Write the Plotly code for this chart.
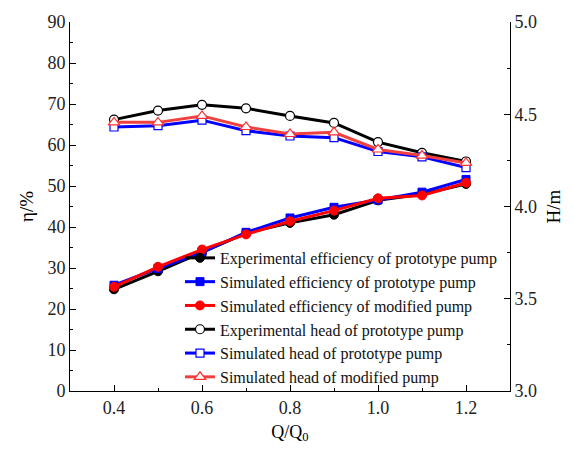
import plotly.graph_objects as go

q = [0.4, 0.5, 0.6, 0.7, 0.8, 0.9, 1.0, 1.1, 1.2]

eff_exp_proto = [24.8, 29.2, 33.8, 38.5, 41.0, 43.0, 46.5, 48.0, 50.5]
eff_sim_proto = [25.8, 29.9, 33.8, 38.7, 42.2, 44.8, 46.6, 48.5, 51.6]
eff_sim_mod = [25.4, 30.3, 34.5, 38.2, 41.4, 44.0, 47.0, 47.7, 50.8]

head_exp_proto = [4.471, 4.520, 4.551, 4.532, 4.491, 4.453, 4.349, 4.291, 4.244]
head_sim_proto = [4.431, 4.438, 4.468, 4.411, 4.382, 4.373, 4.298, 4.269, 4.211]
head_sim_mod = [4.456, 4.456, 4.491, 4.431, 4.393, 4.402, 4.309, 4.276, 4.236]

names = [
    "Experimental efficiency of prototype pump",
    "Simulated efficiency of prototype pump",
    "Simulated efficiency of modified pump",
    "Experimental head of prototype pump",
    "Simulated head of prototype pump",
    "Simulated head of modified pump",
]

FONT = "Times New Roman, Liberation Serif, serif"

fig = go.Figure()

eff_series = [(eff_exp_proto, "black", "circle"),
              (eff_sim_proto, "#0000ff", "square"),
              (eff_sim_mod, "#ff0000", "circle")]
for (vals, col, sym), nm in zip(eff_series, names[:3]):
    fig.add_trace(go.Scatter(
        x=q, y=vals, name=nm, mode="lines+markers",
        line=dict(color=col, width=3),
        marker=dict(symbol=sym, size=9 if sym == "circle" else 8, color=col,
                    line=dict(color=col, width=1)),
        yaxis="y",
    ))

head_series = [(head_exp_proto, "black", "black", "circle", 9),
               (head_sim_proto, "#0000ff", "#0000ff", "square", 8),
               (head_sim_mod, "#f04040", "#ff3030", "triangle-up", 10)]
for (vals, col, mcol, sym, sz), nm in zip(head_series, names[3:]):
    fig.add_trace(go.Scatter(
        x=q, y=vals, name=nm, mode="lines+markers",
        line=dict(color=col, width=3),
        marker=dict(symbol=sym, size=sz, color="white",
                    line=dict(color=mcol, width=1.2)),
        yaxis="y2",
    ))

axis_common = dict(
    showline=True, linecolor="black", linewidth=1,
    ticks="inside", ticklen=6, tickcolor="black", tickwidth=1,
    showgrid=False, zeroline=False,
    tickfont=dict(family=FONT, size=18, color="#222"),
)

fig.update_layout(
    width=574, height=450,
    margin=dict(l=70, r=64, t=20, b=58),
    paper_bgcolor="white", plot_bgcolor="white",
    font=dict(family=FONT, size=18, color="black"),
    showlegend=True,
    legend=dict(
        x=0.25, y=-0.008, xanchor="left", yanchor="bottom",
        bgcolor="rgba(0,0,0,0)",
        font=dict(family=FONT, size=16, color="#111"),
        tracegroupgap=0, itemwidth=30,
    ),
    xaxis=dict(
        range=[0.3, 1.3], tick0=0.4, dtick=0.2, tickformat=".1f",
        minor=dict(tick0=0.4, dtick=0.1, ticks="inside", ticklen=3, tickcolor="black"),
        title=dict(text="Q/Q<sub>0</sub>", font=dict(family=FONT, size=18), standoff=8),
        **axis_common,
    ),
    yaxis=dict(
        range=[0, 90], dtick=10,
        minor=dict(dtick=5, ticks="inside", ticklen=3, tickcolor="black"),
        title=dict(text="η/%", font=dict(family=FONT, size=19), standoff=8),
        **axis_common,
    ),
    yaxis2=dict(
        range=[3.0, 5.0], dtick=0.5, tickformat=".1f",
        overlaying="y", side="right",
        minor=dict(dtick=0.25, ticks="inside", ticklen=3, tickcolor="black"),
        title=dict(text="H/m", font=dict(family=FONT, size=19), standoff=10),
        **axis_common,
    ),
)

fig.write_html("out.html")
